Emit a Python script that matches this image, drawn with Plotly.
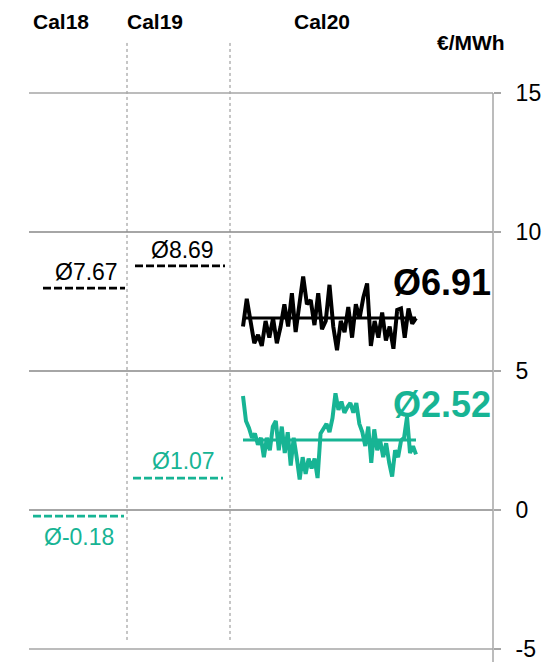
import plotly.graph_objects as go

# ---------------- data ----------------
periods = ["Cal18", "Cal19", "Cal20"]
avg_labels_black = ["Ø7.67", "Ø8.69", "Ø6.91"]
avg_labels_teal = ["Ø-0.18", "Ø1.07", "Ø2.52"]
avg_black = [7.98, 8.78, 6.91]   # level of the drawn average lines
avg_teal = [-0.22, 1.15, 2.52]

cal20_black = [6.6, 7.6, 6.8, 6.0, 6.3, 5.9, 6.8, 6.2, 6.9, 6.0, 6.6, 7.4, 6.6, 7.8,
               6.4, 7.3, 8.4, 7.4, 7.55, 6.65, 7.8, 6.5, 6.8, 8.1, 6.6, 5.75, 6.8, 6.4,
               7.3, 6.2, 7.4, 6.9, 7.65, 8.15, 5.9, 6.8, 6.2, 7.1, 6.1, 6.6, 5.8, 7.2,
               7.25, 6.2, 7.25, 6.7, 6.9]
cal20_teal = [4.1, 3.2, 2.95, 2.6, 2.75, 2.35, 2.6, 1.9, 2.6, 2.15, 3.0, 3.2, 2.15, 3.0,
              2.05, 2.8, 1.6, 2.6, 1.9, 1.1, 1.9, 1.3, 1.85, 1.5, 1.85, 1.15, 2.75, 2.9,
              3.1, 2.8, 3.3, 4.2, 3.6, 3.9, 3.5, 3.7, 3.85, 3.5, 3.85, 3.1, 2.8, 2.3,
              3.0, 1.7, 2.9, 2.15, 2.5, 1.9, 2.4, 1.7, 1.2, 2.15, 1.9, 2.5, 2.6, 3.35,
              2.05, 2.3, 2.0]

y_ticks = [-5, 0, 5, 10, 15]
unit_label = "€/MWh"

# ---------------- layout helpers ----------------
BLACK = "#000000"
TEAL = "#17b494"
GRID = "#a6a6a6"
FONT = "Liberation Sans, Arial, sans-serif"

# horizontal extents of each column on the hidden x axis
black_span = [(14, 96), (106, 196)]
teal_span = [(4, 95), (104, 194)]
sep_x = [98, 201]
series_x0, series_x1 = 214, 387
header_x = [3, 97, 264]

fig = go.Figure()

# Cal18 / Cal19 dashed averages
for i in range(2):
    x0, x1 = black_span[i]
    fig.add_trace(go.Scatter(x=[x0, x1], y=[avg_black[i]] * 2, mode="lines",
                             line=dict(color=BLACK, width=2.7, dash="8px,3px"),
                             hoverinfo="skip", showlegend=False))
    x0, x1 = teal_span[i]
    fig.add_trace(go.Scatter(x=[x0, x1], y=[avg_teal[i]] * 2, mode="lines",
                             line=dict(color=TEAL, width=2.7, dash="8px,3px"),
                             hoverinfo="skip", showlegend=False))

# Cal20 series
def xs(n):
    return [series_x0 + (series_x1 - series_x0) * k / (n - 1) for k in range(n)]

fig.add_trace(go.Scatter(x=xs(len(cal20_teal)), y=cal20_teal, mode="lines",
                         line=dict(color=TEAL, width=4), showlegend=False))
fig.add_trace(go.Scatter(x=[series_x0, series_x1], y=[avg_teal[2]] * 2, mode="lines",
                         line=dict(color=TEAL, width=3), showlegend=False))
fig.add_trace(go.Scatter(x=xs(len(cal20_black)), y=cal20_black, mode="lines",
                         line=dict(color=BLACK, width=4), showlegend=False))
fig.add_trace(go.Scatter(x=[series_x0, series_x1], y=[avg_black[2]] * 2, mode="lines",
                         line=dict(color=BLACK, width=3), showlegend=False))

annotations = []
# average labels Cal18/Cal19
for i in range(2):
    x0, x1 = black_span[i]
    annotations.append(dict(x=(x0 + x1) / 2 + 2, y=avg_black[i], xref="x", yref="y",
                            xanchor="center", yanchor="middle",
                            text=avg_labels_black[i], showarrow=False, yshift=16,
                            font=dict(family=FONT, size=23, color=BLACK)))
    x0, x1 = teal_span[i]
    shift = -21 if avg_teal[i] < 0 else 17
    annotations.append(dict(x=(x0 + x1) / 2 + (0 if avg_teal[i] < 0 else 5), y=avg_teal[i],
                            xref="x", yref="y", xanchor="center", yanchor="middle",
                            text=avg_labels_teal[i], showarrow=False,
                            yshift=shift, font=dict(family=FONT, size=23, color=TEAL)))
# Cal20 labels
annotations.append(dict(x=464, y=avg_black[2], xref="x", yref="y", xanchor="right",
                        yanchor="middle", text="<b>" + avg_labels_black[2] + "</b>",
                        showarrow=False, yshift=35,
                        font=dict(family=FONT, size=36, color=BLACK)))
annotations.append(dict(x=464, y=avg_teal[2], xref="x", yref="y", xanchor="right",
                        yanchor="middle", text="<b>" + avg_labels_teal[2] + "</b>",
                        showarrow=False, yshift=35,
                        font=dict(family=FONT, size=36, color=TEAL)))
# headers
for p, hx in zip(periods, header_x):
    annotations.append(dict(x=hx, y=1.1285, xref="x", yref="paper", xanchor="left",
                            yanchor="middle", text="<b>" + p + "</b>", showarrow=False,
                            borderpad=0,
                            font=dict(family=FONT, size=21, color=BLACK)))
annotations.append(dict(x=406, y=1.09, xref="x", yref="paper", xanchor="left",
                        yanchor="middle", text="<b>" + unit_label + "</b>",
                        showarrow=False, font=dict(family=FONT, size=21, color=BLACK)))

shapes = []
for sx in sep_x:
    shapes.append(dict(type="line", xref="x", yref="paper", x0=sx, x1=sx, y0=1.09, y1=0.016,
                       line=dict(color="#8c8c8c", width=1, dash="dot")))
# gridlines at the bottom and top of the range (plotly omits them at the plot edge)
for yp in (0, 1):
    shapes.append(dict(type="line", xref="paper", yref="paper", x0=0, x1=1, y0=yp, y1=yp,
                       line=dict(color=GRID, width=1.5)))
# right axis line, running to the bottom edge
shapes.append(dict(type="line", xref="paper", yref="paper", x0=1, x1=1, y0=1, y1=-0.03,
                   line=dict(color=GRID, width=1.5)))

# the page body adds an 8px margin, so the figure is 8px smaller on each side
fig.update_layout(
    width=550, height=654,
    margin=dict(l=21, r=65, t=85, b=13, autoexpand=False),
    paper_bgcolor="white", plot_bgcolor="white",
    showlegend=False,
    annotations=annotations, shapes=shapes,
    xaxis=dict(range=[0, 464], visible=False, fixedrange=True, automargin=False),
    yaxis=dict(range=[-5, 15], side="right", tickvals=y_ticks,
               ticktext=[str(v) for v in y_ticks], automargin=False,
               showgrid=True, gridcolor=GRID, gridwidth=1.5,
               zeroline=False, showline=False,
               ticks="outside", ticklen=7, tickcolor=GRID, tickwidth=1.5,
               ticklabelstandoff=10, ticklabeloverflow="allow",
               tickfont=dict(family=FONT, size=23, color=BLACK)),
)

fig.write_html("out.html")
